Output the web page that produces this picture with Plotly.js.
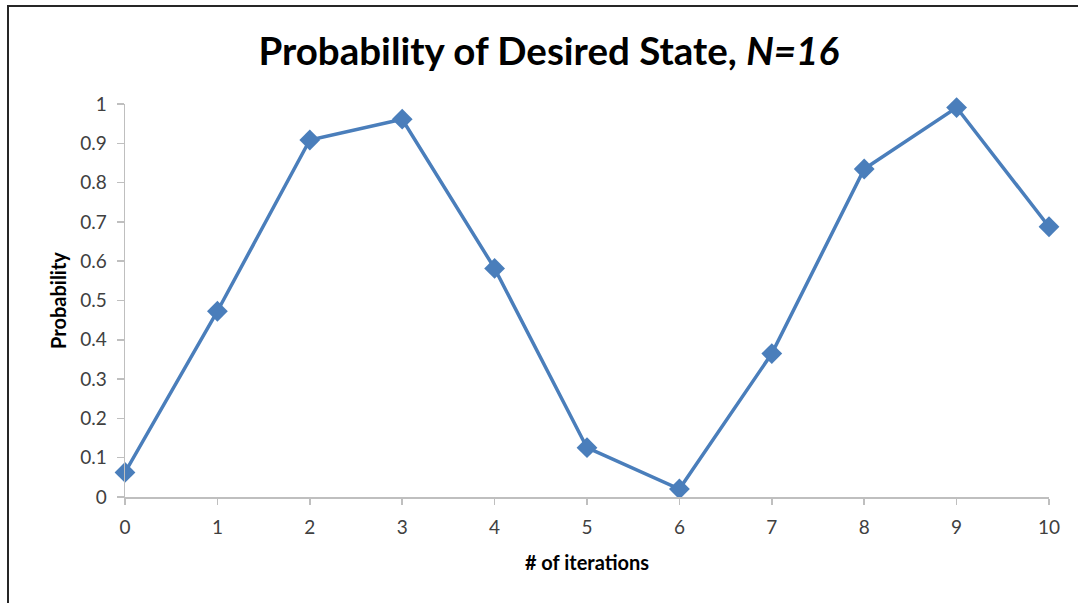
<!DOCTYPE html>
<html>
<head>
<meta charset="utf-8">
<script src="https://cdn.plot.ly/plotly-3.0.1.min.js"></script>
<style>
  html, body { margin: 0; padding: 0; background: #ffffff; overflow: hidden; }
  #frame {
    position: absolute; left: 7px; top: 5px; width: 1080px; height: 610px;
    border-left: 2px solid #262626; border-top: 2px solid #262626;
  }
  #chart { position: absolute; left: 0; top: 0; width: 1078px; height: 603px; }
</style>
</head>
<body>
<div id="frame"></div>
<div id="chart"></div>
<script>
// Grover search, N=16: chance of measuring the marked state after k iterations
const iterations = [0, 1, 2, 3, 4, 5, 6, 7, 8, 9, 10];
const probability = [0.0625, 0.4727, 0.9084, 0.9613, 0.5817, 0.1254, 0.0203, 0.3650, 0.8346, 0.9910, 0.6876];
const xTicks = [0, 1, 2, 3, 4, 5, 6, 7, 8, 9, 10];
const yTicks = [0, 0.1, 0.2, 0.3, 0.4, 0.5, 0.6, 0.7, 0.8, 0.9, 1];

const lineColor = '#4a7ebb';
const axisGray = '#bfbfbf';
const labelGray = '#404040';
const fontFamily = 'Lato, "Open Sans", sans-serif';

const trace = {
  x: iterations,
  y: probability,
  type: 'scatter',
  mode: 'lines+markers',
  cliponaxis: false,
  line: { color: lineColor, width: 3.5 },
  marker: { symbol: 'diamond', size: 16, color: lineColor },
  hoverinfo: 'x+y'
};

const layout = {
  width: 1078,
  height: 603,
  margin: { l: 125, r: 29, t: 104, b: 106 },
  paper_bgcolor: 'rgba(0,0,0,0)',
  plot_bgcolor: 'rgba(0,0,0,0)',
  showlegend: false,
  font: { family: fontFamily, color: labelGray, size: 19 },
  title: {
    text: 'Probability of Desired State, <i>N=16</i>',
    font: { family: fontFamily, size: 38.5, color: '#000000', weight: 'bold' },
    x: 0.509, xref: 'container', xanchor: 'center',
    y: 52, yref: 'container', yanchor: 'middle'
  },
  xaxis: {
    range: [0, 10],
    tickvals: xTicks,
    ticktext: xTicks.map(String),
    ticks: 'outside', ticklen: 6, tickcolor: axisGray, tickwidth: 1.5,
    showline: true, linecolor: axisGray, linewidth: 1.5,
    showgrid: false, zeroline: false,
    ticklabelstandoff: 7,
    tickfont: { size: 19, color: labelGray },
    title: { text: '# of iterations', font: { size: 20, color: '#000000', weight: 'bold' }, standoff: 18 }
  },
  yaxis: {
    range: [0, 1],
    tickvals: yTicks,
    ticktext: yTicks.map(String),
    ticks: 'outside', ticklen: 7, tickcolor: axisGray, tickwidth: 1.5,
    showline: true, linecolor: axisGray, linewidth: 1.5,
    showgrid: false, zeroline: false,
    ticklabelstandoff: 6,
    tickfont: { size: 19, color: labelGray },
    title: { text: 'Probability', font: { size: 20, color: '#000000', weight: 'bold' }, standoff: 8 }
  }
};

Plotly.newPlot('chart', [trace], layout, { displayModeBar: false, staticPlot: true });
</script>
</body>
</html>
